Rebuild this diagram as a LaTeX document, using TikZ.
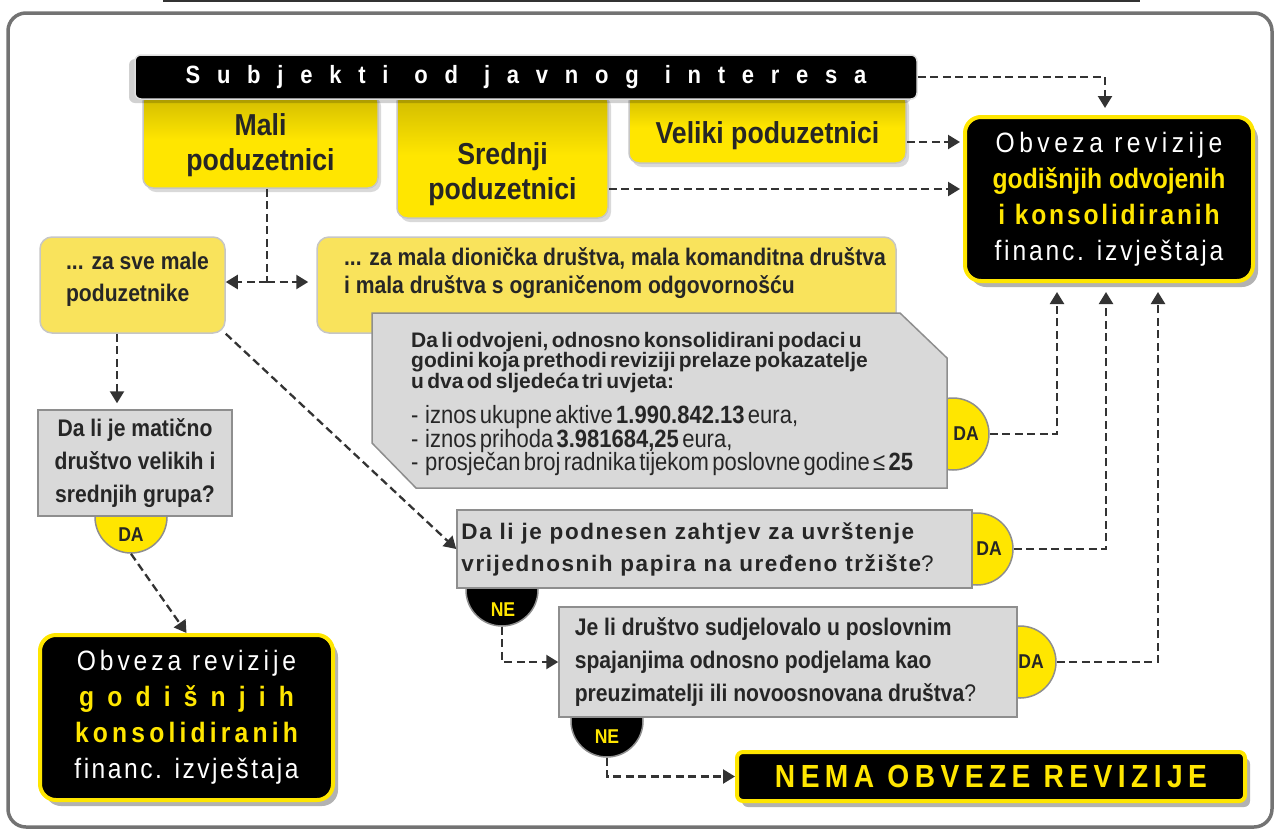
\documentclass[tikz,border=0pt]{standalone}
\usepackage{fontspec}
\setmainfont{Liberation Sans}
\newfontfamily\narrowsans[FakeStretch=0.88]{Liberation Sans}
\usetikzlibrary{arrows.meta,shadows}
\newcommand{\spaced}[1]{\addfontfeature{LetterSpace=#1}}

\definecolor{ylw}{HTML}{FFE600}
\definecolor{ylwdark}{HTML}{CDB800}
\definecolor{ylwlight}{HTML}{F9E35C}
\definecolor{grayfill}{HTML}{D9D9D9}
\definecolor{grayline}{HTML}{8E8E8E}
\definecolor{ink}{HTML}{262626}

\tikzset{
  frame/.style={draw=black!55, line width=3.5pt, rounded corners=18pt},
  titlebar/.style={rectangle, rounded corners=6pt, fill=black, draw=gray!25, line width=1.5pt, text=white,
    font={\narrowsans\bfseries\fontsize{25}{30}\selectfont\spaced{67}},
    drop shadow={shadow xshift=-6pt, shadow yshift=-4pt, opacity=0.18, fill=black}},
  topbox/.style={rectangle, rounded corners=10pt, draw=gray!45, line width=1.5pt,
    top color=ylwdark, bottom color=ylw, middle color=ylw,
    drop shadow={shadow xshift=3pt, shadow yshift=-4pt, opacity=0.15, fill=black}},
  toptext/.style={text=ink, align=center, font={\narrowsans\bfseries\fontsize{30.3}{35}\selectfont}},
  softbox/.style={rectangle, rounded corners=12pt, draw=gray!45, line width=1.5pt, fill=ylwlight},
  softtext/.style={text=ink, align=left, font={\narrowsans\bfseries\fontsize{24}{30}\selectfont}},
  askfill/.style={draw=grayline, line width=1.5pt, fill=grayfill},
  askbox/.style={rectangle, askfill},
  asktext/.style={text=ink, font={\narrowsans\bfseries\fontsize{24}{33}\selectfont}},
  asklong/.style={text=ink, text width=530pt, inner sep=0pt, align=left},
  dacirc/.style={circle, minimum size=72pt, inner sep=0pt, fill=ylw, draw=grayline, line width=1.5pt},
  necirc/.style={dacirc, fill=black},
  datext/.style={text=ink, inner sep=0pt, font={\narrowsans\bfseries\fontsize{20}{20}\selectfont}},
  netext/.style={datext, text=ylw},
  blackbox/.style={rectangle, rounded corners=16pt, fill=black, draw=ylw, line width=4pt, text=white, align=center,
    font={\narrowsans\fontsize{28}{36}\selectfont},
    drop shadow={shadow xshift=5pt, shadow yshift=-6pt, opacity=0.3, fill=black}},
  link/.style={draw=black!80, line width=2.3pt, dash pattern=on 8pt off 4.5pt, -{Triangle[length=12pt,width=14pt]}}
}

\begin{document}
\begin{tikzpicture}[x=1pt, y=-1pt]
\useasboundingbox (0,0) rectangle (1275,831);

\draw[black!80, line width=2pt] (163,1) -- (1140,1);
\draw[frame] (8,13) rectangle (1272,827);

\node[topbox, minimum width=235pt, minimum height=96pt, label={[toptext, yshift=-5.5pt]center:{Mali\\poduzetnici}}] (mali) at (260.5,140) {};
\node[topbox, minimum width=211pt, minimum height=126pt, label={[toptext, yshift=-19pt]center:{Srednji\\poduzetnici}}] (srednji) at (502.5,155) {};
\node[topbox, minimum width=277pt, minimum height=71pt, label={[toptext, yshift=-8pt]center:{Veliki poduzetnici}}] (veliki) at (767.5,127.5) {};

\node[titlebar, minimum width=782pt, minimum height=44pt] (title) at (526,77) {Subjekti\hspace{26pt}od\hspace{26pt}javnog\hspace{26pt}interesa};

\node[blackbox, minimum width=288pt, minimum height=164pt] (obvA) at (1109,199) {{\spaced{16}Obveza revizije}\\{\color{ylw}\bfseries godišnjih odvojenih}\\{\color{ylw}\bfseries\spaced{10}i konsolidiranih}\\{\spaced{10}financ. izvještaja}};

\node[softbox, minimum width=185pt, minimum height=96pt, label={[softtext, font={\narrowsans\bfseries\fontsize{24}{32}\selectfont}, xshift=5pt, yshift=6pt]center:{... za sve male\\poduzetnike}}] (sve) at (132.5,285) {};
\node[softbox, minimum width=579pt, minimum height=96pt, label={[softtext, font={\narrowsans\bfseries\fontsize{24}{28}\selectfont}, xshift=8.5pt, yshift=11.5pt]center:{... za mala dionička društva, mala komanditna društva\\i mala društva s ograničenom odgovornošću}}] (mala) at (606.5,285) {};

\node[dacirc] (da0) at (131,517) {};
\node[dacirc] (da1) at (953,434) {};
\node[dacirc] (da2) at (977,549) {};
\node[dacirc] (da3) at (1020,662) {};
\node[necirc] (ne1) at (502,590) {};
\node[necirc] (ne2) at (607,721) {};

\draw[askfill] (372,313) -- (900,313) -- (947,358) -- (947,488) -- (416,488) -- (372,443) -- cycle;
\node[asklong, anchor=north west] (q1) at (411,332) {{\fontsize{21}{18.5}\selectfont\bfseries Da li odvojeni, odnosno konsolidirani podaci u\\godini koja prethodi reviziji prelaze pokazatelje\\u dva od sljedeća tri uvjeta:\par}\vspace{11.5pt}{\narrowsans\fontsize{25}{23.5}\selectfont -\ \ iznos ukupne aktive \textbf{1.990.842.13} eura,\\-\ \ iznos prihoda \textbf{3.981684,25} eura,\\-\ \ prosječan broj radnika tijekom poslovne godine ≤ \textbf{25}\par}};
\node[askbox, asktext, align=center, minimum width=194pt, minimum height=106pt] (q0) at (135,463) {Da li je matično\\društvo velikih i\\srednjih grupa?};
\node[askbox, minimum width=515pt, minimum height=78pt, label={[asktext, align=left, font={\bfseries\fontsize{22.5}{32}\selectfont\spaced{7}}, xshift=-17pt]center:{Da li je podnesen zahtjev za uvrštenje\\vrijednosnih papira na uređeno tržište{\mdseries ?}}}] (q2) at (714.5,549) {};
\node[askbox, minimum width=458pt, minimum height=110pt, label={[asktext, align=left, xshift=-12.5pt]center:{Je li društvo sudjelovalo u poslovnim\\spajanjima odnosno podjelama kao\\preuzimatelji ili novoosnovana društva{\mdseries ?}}}] (q3) at (788,662) {};

\node[datext] (da0t) at (131,535) {DA};
\node[datext] (da1t) at (966,434) {DA};
\node[datext] (da2t) at (989,549) {DA};
\node[datext] (da3t) at (1031,662) {DA};
\node[netext] (ne1t) at (503,610) {NE};
\node[netext] (ne2t) at (607,737) {NE};

\node[blackbox, minimum width=293pt, minimum height=165pt] (obvB) at (186.5,717.5) {{\spaced{14}Obveza revizije}\\{\color{ylw}\bfseries\spaced{47}godišnjih}\\{\color{ylw}\bfseries\spaced{15}konsolidiranih}\\{\spaced{9}financ. izvještaja}};
\node[blackbox, rounded corners=6pt, minimum width=508pt, minimum height=49pt, text=ylw, font={\narrowsans\bfseries\fontsize{32}{36}\selectfont\spaced{17}}] (nema) at (991,776.5) {NEMA OBVEZE REVIZIJE};

\coordinate (split) at (267,282);
\draw[link, -] (mali.south -| split) -- (split);
\draw[link] (split) -- (sve.east |- split);
\draw[link, shorten >=8pt] (split) -- (mala.west |- split);
\draw[link, shorten >=6pt] (sve.south -| 117,0) -- (q0.north -| 117,0);
\draw[link] (sve.south east) -- (q2.west);
\draw[link] (da0.south) -- (obvB.north);
\draw[link, shorten >=7pt] (title.east) -| (obvA.north -| 1105,0);
\draw[link, shorten >=3pt] (veliki.east |- 0,142) -- (obvA.west |- 0,142);
\draw[link, shorten >=3pt] (srednji.east |- 0,189) -- (obvA.west |- 0,189);
\draw[link, shorten >=9pt] (da1.east) -| (obvA.south -| 1057,0);
\draw[link, shorten >=9pt] (da2.east) -| (obvA.south -| 1106,0);
\draw[link, shorten >=9pt] (da3.east) -| (obvA.south -| 1158,0);
\draw[link] (ne1.south) |- (q3.west);
\draw[link] (ne2.south) |- (nema.west);
\end{tikzpicture}
\end{document}
